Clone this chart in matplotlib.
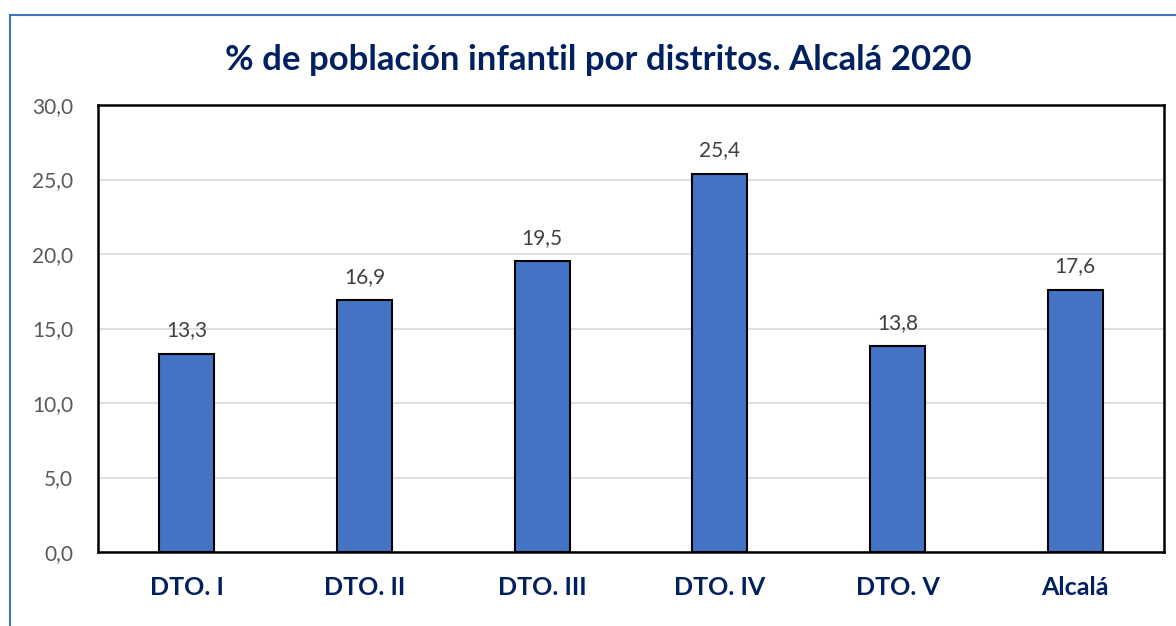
import matplotlib
matplotlib.use("Agg")
import matplotlib.pyplot as plt
from matplotlib.patches import Rectangle

categorias = ["DTO. I", "DTO. II", "DTO. III", "DTO. IV", "DTO. V", "Alcalá"]
valores = [13.3, 16.9, 19.5, 25.4, 13.8, 17.6]
ticks_y = [0, 5, 10, 15, 20, 25, 30]

plt.rcParams['font.family'] = ['Lato', 'DejaVu Sans']

W, H = 1176, 626
fig = plt.figure(figsize=(W / 100, H / 100), dpi=100)

# borde azul exterior (recortado por la derecha y por abajo)
fig.patches.append(Rectangle((10 / W, -0.05), 1.2, 1 - 15 / H + 0.05,
                             transform=fig.transFigure, fill=False,
                             edgecolor="#4472C4", linewidth=1.5))

ax = fig.add_axes([98 / W, 1 - 552 / H, (1164 - 98) / W, (552 - 105) / H])

x = list(range(len(categorias)))
ax.bar(x, valores, width=0.31, color="#4472C4", edgecolor="black", linewidth=1.5, zorder=3)

for xi, v in zip(x, valores):
    ax.text(xi, v + 0.9, f"{v:.1f}".replace(".", ","), ha="center", va="bottom",
            fontsize=15, color="#404040")

ax.set_xlim(-0.5, len(categorias) - 0.5)
ax.set_ylim(0, 30)
ax.set_yticks(ticks_y)
ax.set_yticklabels([f"{t:.1f}".replace(".", ",") for t in ticks_y], fontsize=15, color="#595959")
ax.set_xticks(x)
ax.set_xticklabels(categorias, fontsize=18, fontweight="bold", color="#002060")
ax.tick_params(axis="both", length=0)
ax.tick_params(axis="y", pad=18)
ax.tick_params(axis="x", pad=17)
ax.yaxis.grid(True, color="#D9D9D9", linewidth=1.2, zorder=0)
ax.set_axisbelow(True)
for s in ax.spines.values():
    s.set_linewidth(1.8)
    s.set_color("black")

fig.text(598 / W, 1 - 60 / H, "% de población infantil por distritos. Alcalá 2020", ha="center", va="center",
         fontsize=25, fontweight="bold", color="#002060")

fig.savefig("out.png", dpi=100)
